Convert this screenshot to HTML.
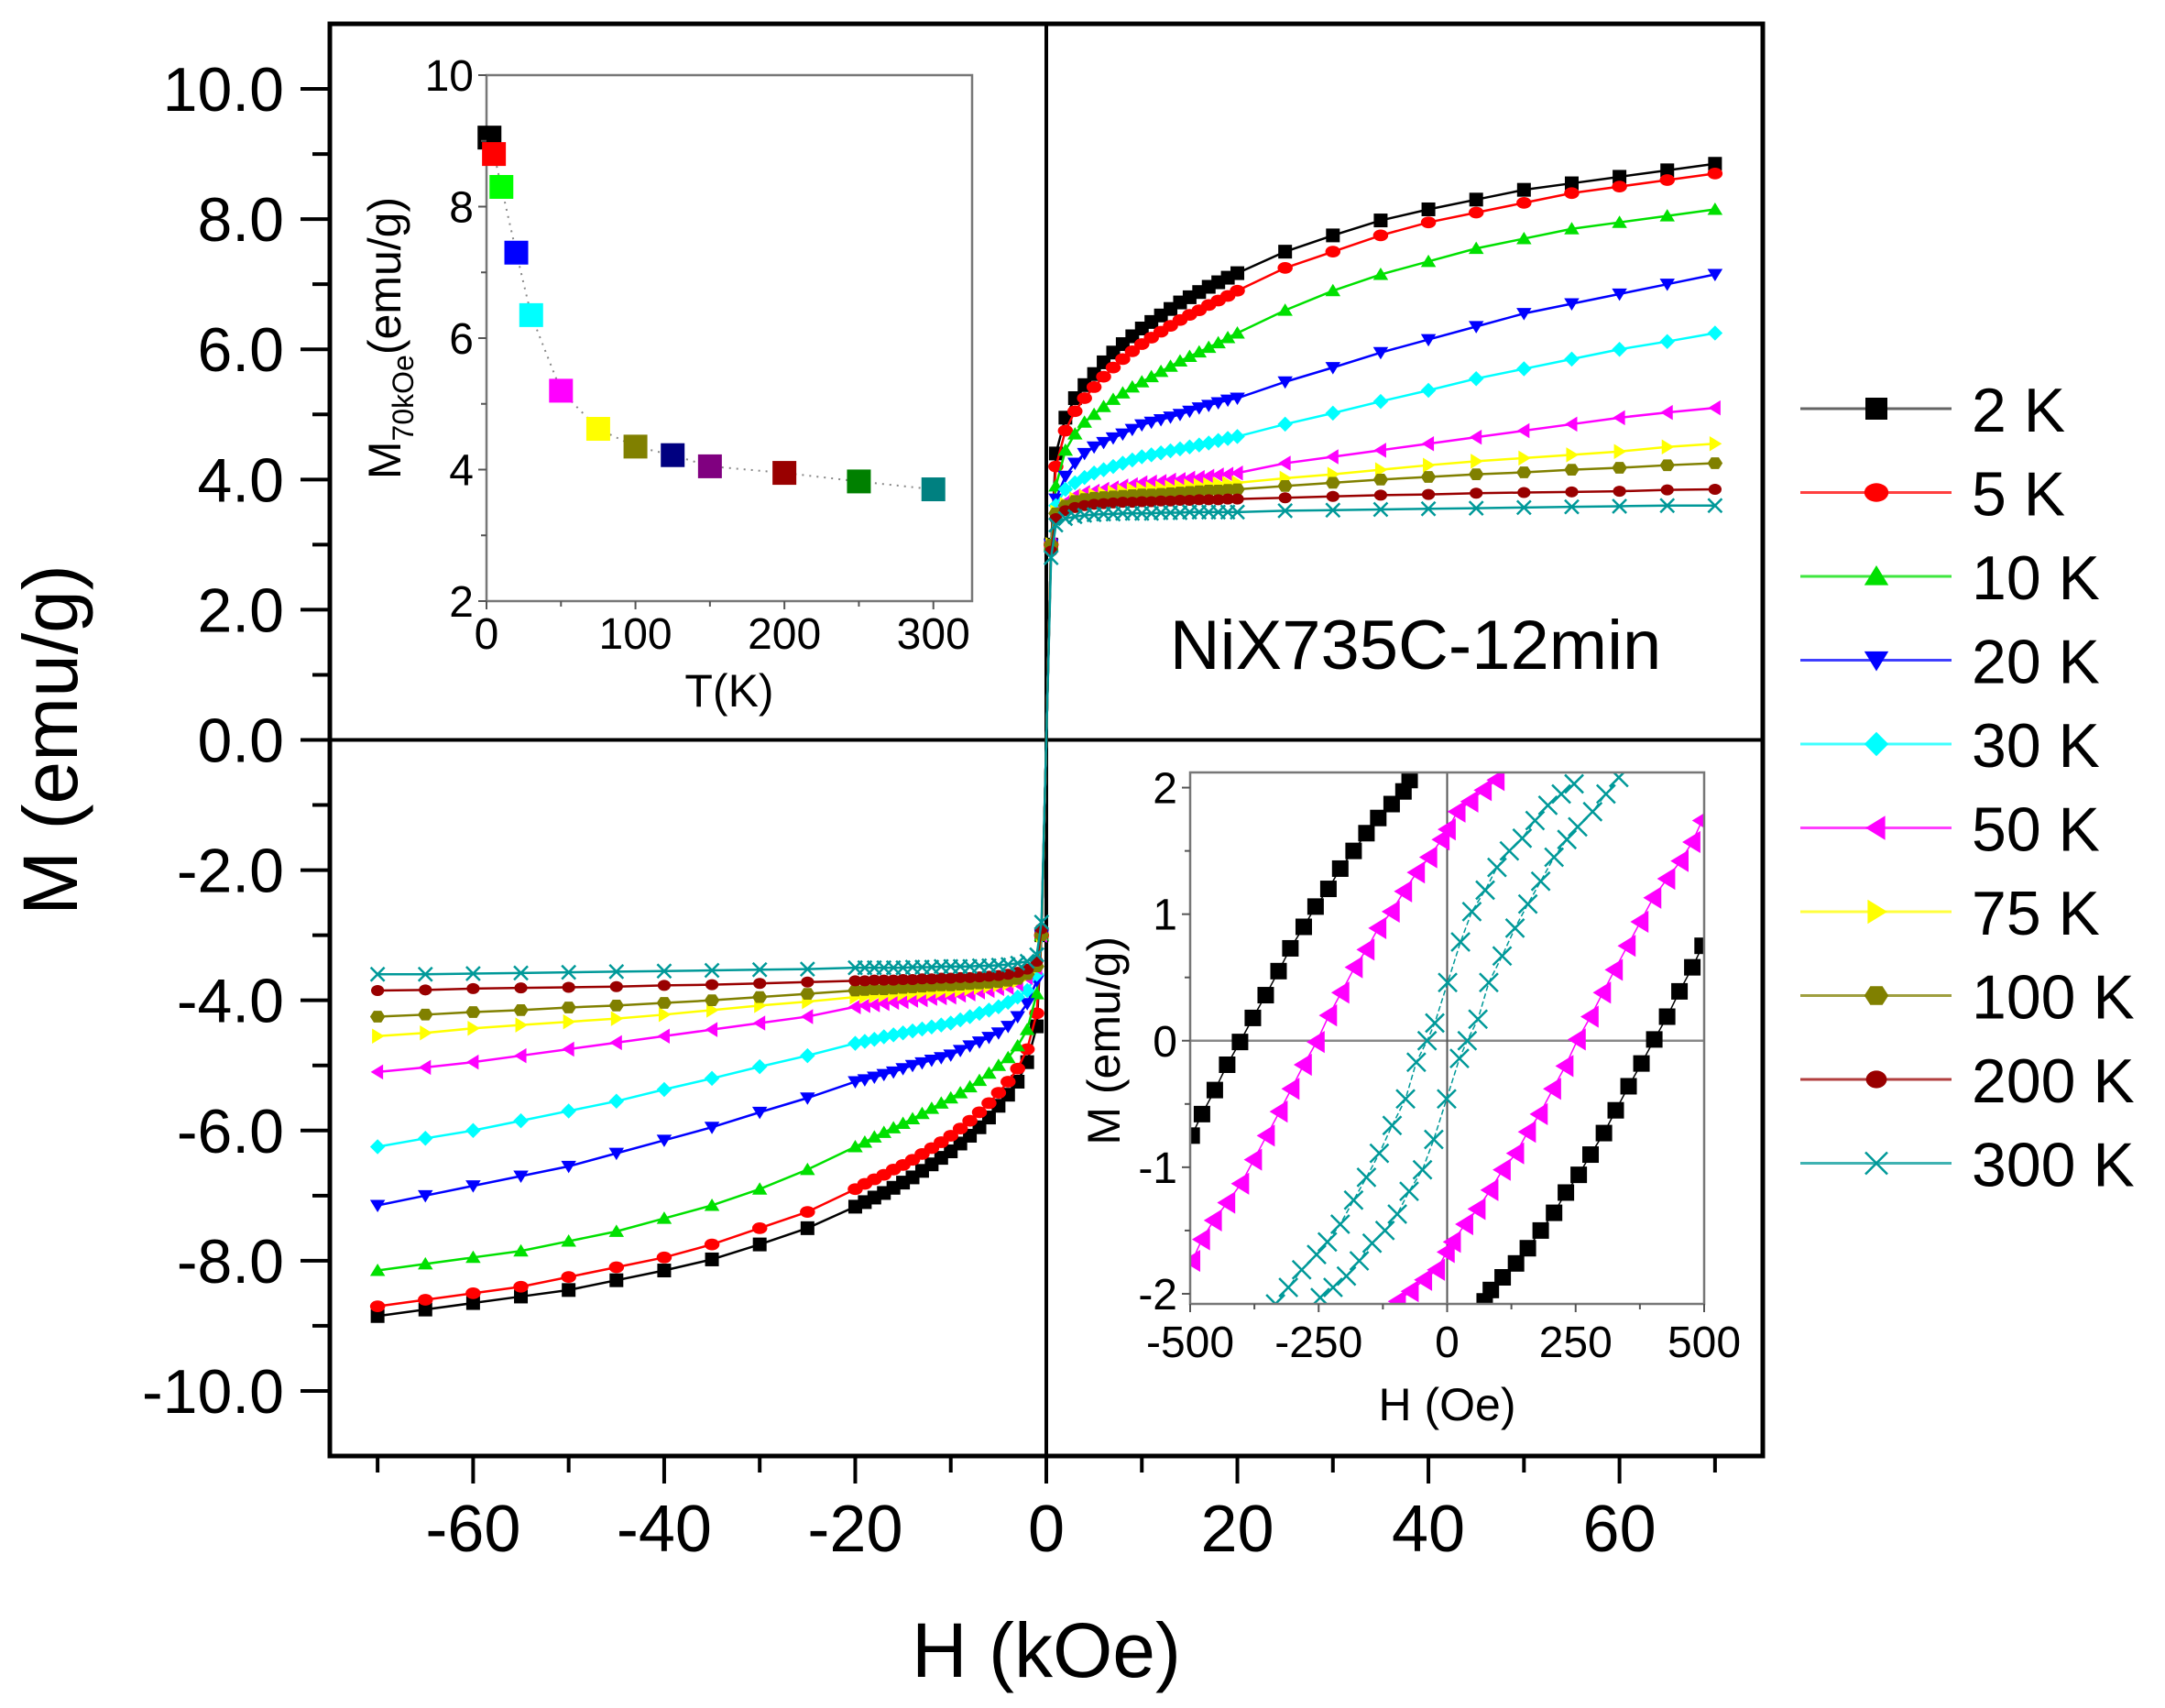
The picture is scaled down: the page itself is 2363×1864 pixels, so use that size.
<!DOCTYPE html>
<html><head><meta charset="utf-8"><style>
html,body{margin:0;padding:0;background:#fff;}
svg{display:block;font-family:"Liberation Sans",Arial,sans-serif;}
</style></head><body>
<svg id="chart" width="2363" height="1864" viewBox="0 0 2363 1864" xmlns="http://www.w3.org/2000/svg">
<rect x="0" y="0" width="2363" height="1864" fill="#fff"/>
<g id="main"></g>
<g id="inset1"></g>
<g id="inset2"></g>
<g id="legend"></g>
</svg>
<script>
// ---------- Main chart data ----------
const fieldKOe = [0,0.5,1,2,3,4,5,6,7,8,9,10,11,12,13,14,15,16,17,18,19,20,25,30,35,40,45,50,55,60,65,70];
const seriesNames = ["2 K","5 K","10 K","20 K","30 K","50 K","75 K","100 K","200 K","300 K"];
const m2K   = [0,3.0,4.4,4.95,5.25,5.45,5.62,5.8,5.95,6.08,6.2,6.32,6.42,6.52,6.62,6.72,6.8,6.88,6.96,7.03,7.1,7.17,7.5,7.75,7.98,8.15,8.3,8.45,8.55,8.65,8.75,8.85];
const m5K   = [0,3.0,4.2,4.75,5.05,5.25,5.42,5.58,5.72,5.85,5.97,6.08,6.18,6.27,6.36,6.45,6.53,6.6,6.68,6.75,6.82,6.9,7.25,7.5,7.75,7.95,8.1,8.25,8.4,8.5,8.6,8.7];
const m10K  = [0,3.0,3.9,4.45,4.7,4.88,5.0,5.12,5.23,5.33,5.42,5.5,5.58,5.66,5.74,5.82,5.89,5.96,6.03,6.1,6.18,6.25,6.6,6.9,7.15,7.35,7.55,7.7,7.85,7.95,8.05,8.15];
const m20K  = [0,3.0,3.7,4.05,4.25,4.4,4.5,4.57,4.64,4.7,4.77,4.84,4.88,4.92,4.96,5.0,5.05,5.1,5.14,5.18,5.22,5.25,5.5,5.72,5.95,6.15,6.35,6.55,6.7,6.85,7.0,7.15];
const m30K  = [0,3.0,3.6,3.85,3.95,4.03,4.1,4.15,4.2,4.25,4.3,4.35,4.38,4.41,4.44,4.47,4.5,4.53,4.56,4.6,4.63,4.66,4.85,5.02,5.2,5.37,5.55,5.7,5.85,6.0,6.12,6.25];
const m50K  = [0,3.0,3.5,3.65,3.75,3.8,3.82,3.85,3.87,3.9,3.92,3.95,3.96,3.97,3.99,4.0,4.02,4.03,4.05,4.07,4.08,4.1,4.25,4.35,4.45,4.55,4.65,4.75,4.85,4.95,5.03,5.1];
const m75K  = [0,3.0,3.5,3.62,3.7,3.74,3.76,3.78,3.8,3.82,3.84,3.85,3.86,3.87,3.88,3.89,3.9,3.91,3.92,3.93,3.94,3.95,4.02,4.08,4.15,4.22,4.28,4.33,4.38,4.43,4.5,4.55];
const m100K = [0,3.0,3.48,3.6,3.67,3.7,3.72,3.73,3.74,3.75,3.76,3.77,3.77,3.78,3.79,3.8,3.81,3.82,3.83,3.83,3.84,3.85,3.9,3.95,4.0,4.04,4.08,4.11,4.15,4.18,4.22,4.25];
const m200K = [0,2.9,3.4,3.52,3.57,3.6,3.62,3.63,3.64,3.65,3.65,3.66,3.66,3.67,3.67,3.68,3.68,3.69,3.69,3.69,3.7,3.7,3.72,3.74,3.76,3.77,3.79,3.8,3.81,3.82,3.84,3.85];
const m300K = [0,2.8,3.3,3.4,3.43,3.45,3.46,3.47,3.47,3.48,3.48,3.48,3.48,3.49,3.49,3.49,3.5,3.5,3.5,3.5,3.5,3.5,3.52,3.53,3.54,3.55,3.56,3.57,3.58,3.59,3.6,3.6];
const seriesValues = [m2K,m5K,m10K,m20K,m30K,m50K,m75K,m100K,m200K,m300K];
const seriesColors = ["#000000","#ff0000","#00e000","#0000ff","#00ffff","#ff00ff","#ffff00","#808000","#990000","#009999"];
const seriesMarkers = ["square","circle","tri-up","tri-down","diamond","tri-left","tri-right","hexagon","circle-small","cross"];
const xTicksMain = [-60,-40,-20,0,20,40,60];
const yTicksMain = ["-10.0","-8.0","-6.0","-4.0","-2.0","0.0","2.0","4.0","6.0","8.0","10.0"];

// ---------- Inset 1 data (M at 70 kOe vs T) ----------
const insetT = [2,5,10,20,30,50,75,100,125,150,200,250,300];
const insetM = [9.05,8.8,8.3,7.3,6.35,5.2,4.62,4.35,4.22,4.05,3.95,3.82,3.7];
const insetColors = ["#000000","#ff0000","#00ff00","#0000ff","#00ffff","#ff00ff","#ffff00","#808000","#000080","#800080","#990000","#008000","#008080"];
const inset1XTicks = [0,100,200,300];
const inset1YTicks = [2,4,6,8,10];

// ---------- Inset 2 data (low-field loops, descending branch; ascending = point-mirrored) ----------
const loop2KH = [-497,-477,-452,-428,-403,-378,-353,-328,-305,-279,-256,-231,-208,-182,-157,-134,-108,-85,-73];
const loop2KM = [-0.75,-0.58,-0.39,-0.19,-0.01,0.18,0.36,0.55,0.73,0.90,1.06,1.2,1.36,1.5,1.64,1.76,1.87,1.97,2.06];
const loop50KH = [-496,-477,-454,-428,-401,-376,-351,-326,-303,-279,-254,-230,-206,-180,-157,-134,-108,-84,-59,-35,-11,1,20,45,71,96];
const loop50KM = [-1.74,-1.57,-1.42,-1.28,-1.13,-0.94,-0.75,-0.56,-0.38,-0.19,-0.01,0.2,0.38,0.58,0.72,0.89,1.02,1.18,1.33,1.45,1.59,1.67,1.81,1.89,1.98,2.06];
const loop300KH = [-334,-309,-283,-254,-233,-208,-182,-157,-132,-107,-81,-60,-39,-24,1,26,48,74,97,121,146,171,196,222,247];
const loop300KM = [-2.08,-1.95,-1.81,-1.69,-1.59,-1.45,-1.26,-1.08,-0.89,-0.67,-0.46,-0.17,0,0.14,0.46,0.78,1.02,1.19,1.37,1.5,1.6,1.74,1.86,1.95,2.03];
const inset2XTicks = [-500,-250,0,250,500];
const inset2YTicks = [-2,-1,0,1,2];

const NS = "http://www.w3.org/2000/svg";
function mk(parent, tag, attrs, text){
  const e = document.createElementNS(NS, tag);
  for (const k in attrs) e.setAttribute(k, attrs[k]);
  if (text !== undefined) e.textContent = text;
  parent.appendChild(e);
  return e;
}

function marker(g, type, cx, cy, s, color){
  let e;
  const h = s/2;
  if (type === "square") e = mk(g,"rect",{x:cx-h,y:cy-h,width:s,height:s,fill:color});
  else if (type === "circle") e = mk(g,"ellipse",{cx:cx,cy:cy,rx:h*1.1,ry:h*0.85,fill:color});
  else if (type === "circle-small") e = mk(g,"ellipse",{cx:cx,cy:cy,rx:h*0.95,ry:h*0.8,fill:color});
  else if (type === "hexagon") e = mk(g,"polygon",{points:[[cx-h*1.1,cy],[cx-h*0.55,cy-h*0.85],[cx+h*0.55,cy-h*0.85],[cx+h*1.1,cy],[cx+h*0.55,cy+h*0.85],[cx-h*0.55,cy+h*0.85]].join(" "),fill:color});
  else if (type === "tri-up") e = mk(g,"polygon",{points:[[cx,cy-h],[cx+h*1.1,cy+h*0.8],[cx-h*1.1,cy+h*0.8]].join(" "),fill:color});
  else if (type === "tri-down") e = mk(g,"polygon",{points:[[cx,cy+h],[cx+h*1.1,cy-h*0.8],[cx-h*1.1,cy-h*0.8]].join(" "),fill:color});
  else if (type === "tri-left") e = mk(g,"polygon",{points:[[cx-h,cy],[cx+h*0.8,cy-h*1.1],[cx+h*0.8,cy+h*1.1]].join(" "),fill:color});
  else if (type === "tri-right") e = mk(g,"polygon",{points:[[cx+h,cy],[cx-h*0.8,cy-h*1.1],[cx-h*0.8,cy+h*1.1]].join(" "),fill:color});
  else if (type === "diamond") e = mk(g,"polygon",{points:[[cx,cy-h*1.1],[cx+h*1.1,cy],[cx,cy+h*1.1],[cx-h*1.1,cy]].join(" "),fill:color});
  else if (type === "cross") e = mk(g,"path",{d:`M${cx-h} ${cy-h}L${cx+h} ${cy+h}M${cx-h} ${cy+h}L${cx+h} ${cy-h}`,stroke:color,"stroke-width":2.5,fill:"none"});
  return e;
}

// ---------- Main chart ----------
const main = document.getElementById("main");
const PL=360, PR=1924, PT=26, PB=1589;
const xMin=-75, xMax=75, yMin=-11, yMax=11;
const X = v => PL + (v - xMin) / (xMax - xMin) * (PR - PL);
const Y = v => PB - (v - yMin) / (yMax - yMin) * (PB - PT);

// zero lines
let zl = mk(main,"line",{x1:PL,x2:PR,y1:Y(0),y2:Y(0),stroke:"#000","stroke-width":4});


zl = mk(main,"line",{x1:X(0),x2:X(0),y1:PT,y2:PB,stroke:"#000","stroke-width":4});



// series
seriesValues.forEach((vals, si) => {
  const g = mk(main,"g",{});
  
  
  const pts = [];
  for (let i = fieldKOe.length-1; i >= 0; i--) pts.push([X(-fieldKOe[i]), Y(-vals[i])]);
  for (let i = 0; i < fieldKOe.length; i++) pts.push([X(fieldKOe[i]), Y(vals[i])]);
  mk(g,"polyline",{points:pts.map(p=>p.join(",")).join(" "),fill:"none",stroke:seriesColors[si],"stroke-width":2.5});
  pts.forEach(p => { if (Math.abs(p[0]-X(0))>1) marker(g, seriesMarkers[si], p[0], p[1], 15, seriesColors[si]); });
});

// frame
let fr = mk(main,"rect",{x:PL,y:PT,width:PR-PL,height:PB-PT,fill:"none",stroke:"#000","stroke-width":5});



// x ticks
for (let v=-70; v<=70; v+=10){
  const major = (v % 20 === 0);
  mk(main,"line",{x1:X(v),x2:X(v),y1:PB,y2:PB+(major?30:18),stroke:"#000","stroke-width":4});
}
xTicksMain.forEach(v => {
  const t = mk(main,"text",{x:X(v),y:1693,"font-size":72,"text-anchor":"middle"}, String(v));
  
  
});
// y ticks
for (let v=-11; v<=11; v+=1){
  if (v===-11||v===11) continue;
  const major = (v % 2 === 0);
  mk(main,"line",{x1:PL-(major?32:19),x2:PL,y1:Y(v),y2:Y(v),stroke:"#000","stroke-width":4});
}
yTicksMain.forEach(lbl => {
  const t = mk(main,"text",{x:310,y:Y(parseFloat(lbl))+24,"font-size":68,"text-anchor":"end"}, lbl);
  
  
});
let tt = mk(main,"text",{x:X(0),y:1830,"font-size":84,"text-anchor":"middle"},"H (kOe)");


tt = mk(main,"text",{x:0,y:0,"font-size":84,"text-anchor":"middle",transform:`translate(84,${Y(0)}) rotate(-90)`},"M (emu/g)");


tt = mk(main,"text",{x:1545,y:730,"font-size":76,"text-anchor":"middle"},"NiX735C-12min");



// ---------- Inset 1 ----------
const in1 = document.getElementById("inset1");


const aL=531, aR=1061, aT=82, aB=656;
const ax = v => aL + (v - 0) / (326 - 0) * (aR - aL);
const ay = v => aB - (v - 2) / (10 - 2) * (aB - aT);
mk(in1,"rect",{x:aL,y:aT,width:aR-aL,height:aB-aT,fill:"#fff",stroke:"#777","stroke-width":2.5});
const dpts = insetT.map((t,i)=>[ax(t),ay(insetM[i])]);
mk(in1,"polyline",{points:dpts.map(p=>p.join(",")).join(" "),fill:"none",stroke:"#888","stroke-width":2,"stroke-dasharray":"2 6"});
insetT.forEach((t,i)=>{
  const r = mk(in1,"rect",{x:ax(t)-13,y:ay(insetM[i])-13,width:26,height:26,fill:insetColors[i]});
  
  
});
for (let v=0; v<=300; v+=50) mk(in1,"line",{x1:ax(v),x2:ax(v),y1:aB,y2:aB+(v%100===0?9:6),stroke:"#555","stroke-width":2});
for (let v=2; v<=10; v+=1) mk(in1,"line",{x1:aL-(v%2===0?9:6),x2:aL,y1:ay(v),y2:ay(v),stroke:"#555","stroke-width":2});
inset1XTicks.forEach(v=>{
  const t = mk(in1,"text",{x:ax(v),y:aB+52,"font-size":48,"text-anchor":"middle"},String(v));
  
  
});
inset1YTicks.forEach(v=>{
  const t = mk(in1,"text",{x:aL-14,y:ay(v)+17,"font-size":48,"text-anchor":"end"},String(v));
  
  
});
tt = mk(in1,"text",{x:(aL+aR)/2,y:aB+115,"font-size":50,"text-anchor":"middle"},"T(K)");


tt = mk(in1,"text",{x:0,y:0,"font-size":50,"text-anchor":"middle",transform:`translate(437,${(aT+aB)/2}) rotate(-90)`});


mk(tt,"tspan",{},"M");
mk(tt,"tspan",{"font-size":32,dy:14},"70kOe");
mk(tt,"tspan",{dy:-14},"(emu/g)");

// ---------- Inset 2 ----------
const in2 = document.getElementById("inset2");


const bL=1299, bR=1860, bT=843, bB=1423;
const bx = v => bL + (v + 500) / 1000 * (bR - bL);
const by = v => bB - (v + 2.08) / (2.12 + 2.08) * (bB - bT);
mk(in2,"rect",{x:bL,y:bT,width:bR-bL,height:bB-bT,fill:"#fff"});
const clip = mk(in2,"clipPath",{id:"c2"});
mk(clip,"rect",{x:bL,y:bT,width:bR-bL,height:bB-bT});
const cg = mk(in2,"g",{"clip-path":"url(#c2)"});
mk(cg,"line",{x1:bL,x2:bR,y1:by(0),y2:by(0),stroke:"#888","stroke-width":2.5});
mk(cg,"line",{x1:bx(0),x2:bx(0),y1:bT,y2:bB,stroke:"#555","stroke-width":2});
const loops = [[loop2KH,loop2KM,"#000000","square",18],[loop50KH,loop50KM,"#ff00ff","tri-left",22],[loop300KH,loop300KM,"#009999","cross",20]];
loops.forEach((L,li)=>{
  const g = mk(cg,"g",{});
  
  
  [1,-1].forEach(sgn=>{
    const pts = L[0].map((h,i)=>[bx(sgn*h), by(sgn*L[1][i])]);
    mk(g,"polyline",{points:pts.map(p=>p.join(",")).join(" "),fill:"none",stroke:L[2],"stroke-width":1.5,"stroke-dasharray":li===2?"6 3":"none"});
    const mt = (L[3]==="tri-left" && sgn<0) ? "tri-right" : L[3];
    pts.forEach(p=>marker(g, L[3]==="tri-left" ? "tri-left" : mt, p[0], p[1], L[4], L[2]));
  });
});
mk(in2,"rect",{x:bL,y:bT,width:bR-bL,height:bB-bT,fill:"none",stroke:"#777","stroke-width":2.5});
for (let v=-500; v<=500; v+=125) mk(in2,"line",{x1:bx(v),x2:bx(v),y1:bB,y2:bB+(v%250===0?9:6),stroke:"#555","stroke-width":2});
for (let v=-2; v<=2; v+=0.5) mk(in2,"line",{x1:bL-(v%1===0?9:6),x2:bL,y1:by(v),y2:by(v),stroke:"#555","stroke-width":2});
inset2XTicks.forEach(v=>{
  const t = mk(in2,"text",{x:bx(v),y:bB+58,"font-size":48,"text-anchor":"middle"},String(v));
  
  
});
inset2YTicks.forEach(v=>{
  const t = mk(in2,"text",{x:bL-14,y:by(v)+17,"font-size":48,"text-anchor":"end"},String(v));
  
  
});
tt = mk(in2,"text",{x:(bL+bR)/2,y:1550,"font-size":50,"text-anchor":"middle"},"H (Oe)");


tt = mk(in2,"text",{x:0,y:0,"font-size":50,"text-anchor":"middle",transform:`translate(1222,${by(0)}) rotate(-90)`},"M (emu/g)");



// ---------- Legend ----------
const leg = document.getElementById("legend");


seriesNames.forEach((n,i)=>{
  const y = 446 + i*91.5;
  const g = mk(leg,"g",{});
  
  
  mk(g,"line",{x1:1965,x2:2130,y1:y,y2:y,stroke:seriesColors[i],"stroke-width":3,opacity:i===0?0.6:0.75});
  marker(g, seriesMarkers[i], 2048, y, 24, seriesColors[i]);
  mk(g,"text",{x:2152,y:y+25,"font-size":68},n);
});
</script>
</body></html>
